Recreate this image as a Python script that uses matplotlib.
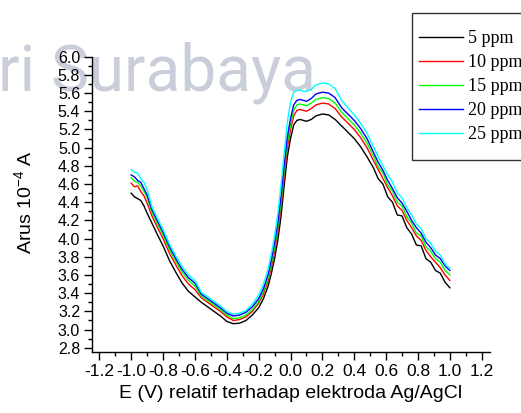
import matplotlib
matplotlib.use("Agg")
import matplotlib.pyplot as plt
from matplotlib.ticker import MultipleLocator, FormatStrFormatter
from matplotlib.path import Path

plt.rcParams['font.family'] = ['Liberation Sans', 'DejaVu Sans']
plt.rcParams['axes.unicode_minus'] = False
plt.rcParams['mathtext.default'] = 'regular'

# ---- data ----
E = [-1.00, -0.98, -0.96, -0.94, -0.92, -0.90, -0.87, -0.84, -0.80, -0.76,
     -0.72, -0.68, -0.64, -0.60, -0.56, -0.52, -0.48, -0.44, -0.40, -0.36,
     -0.32, -0.28, -0.24, -0.20, -0.17, -0.14, -0.12, -0.10, -0.08, -0.06,
     -0.04, -0.02, 0.00, 0.02, 0.04, 0.06, 0.08, 0.10, 0.13, 0.16,
     0.20, 0.24, 0.28, 0.32, 0.36, 0.40, 0.44, 0.48, 0.52, 0.55,
     0.58, 0.61, 0.64, 0.67, 0.70, 0.73, 0.76, 0.79, 0.82, 0.85,
     0.88, 0.91, 0.94, 0.97, 1.00]

ppm5 = [4.50, 4.46, 4.44, 4.42, 4.36, 4.28, 4.17, 4.06, 3.92, 3.76,
        3.63, 3.51, 3.42, 3.36, 3.30, 3.25, 3.20, 3.15, 3.09, 3.065,
        3.07, 3.10, 3.16, 3.24, 3.34, 3.48, 3.62, 3.78, 3.98, 4.24,
        4.58, 4.90, 5.10, 5.25, 5.30, 5.31, 5.30, 5.29, 5.31, 5.35,
        5.37, 5.36, 5.31, 5.24, 5.17, 5.10, 5.01, 4.90, 4.78, 4.66,
        4.60, 4.46, 4.40, 4.26, 4.25, 4.12, 4.05, 3.93, 3.92, 3.78,
        3.74, 3.65, 3.62, 3.52, 3.46]

ppm10 = [4.61, 4.57, 4.58, 4.52, 4.47, 4.39, 4.25, 4.14, 4.00, 3.84,
         3.71, 3.59, 3.50, 3.44, 3.35, 3.30, 3.25, 3.20, 3.14, 3.10,
         3.11, 3.14, 3.20, 3.29, 3.39, 3.54, 3.69, 3.86, 4.07, 4.34,
         4.68, 5.00, 5.20, 5.35, 5.41, 5.42, 5.41, 5.40, 5.43, 5.47,
         5.49, 5.48, 5.43, 5.34, 5.27, 5.20, 5.11, 5.00, 4.86, 4.76,
         4.66, 4.56, 4.47, 4.36, 4.31, 4.20, 4.12, 4.03, 3.98, 3.87,
         3.80, 3.74, 3.68, 3.60, 3.54]

ppm15 = [4.67, 4.63, 4.62, 4.58, 4.52, 4.45, 4.29, 4.18, 4.04, 3.88,
         3.75, 3.63, 3.54, 3.48, 3.37, 3.32, 3.27, 3.22, 3.16, 3.12,
         3.13, 3.16, 3.22, 3.31, 3.42, 3.57, 3.73, 3.90, 4.12, 4.40,
         4.74, 5.06, 5.26, 5.41, 5.47, 5.48, 5.47, 5.46, 5.49, 5.53,
         5.55, 5.54, 5.49, 5.39, 5.32, 5.25, 5.16, 5.05, 4.91, 4.79,
         4.72, 4.59, 4.52, 4.40, 4.36, 4.24, 4.17, 4.06, 4.03, 3.91,
         3.86, 3.78, 3.74, 3.65, 3.60]

ppm20 = [4.70, 4.68, 4.64, 4.62, 4.55, 4.48, 4.32, 4.21, 4.07, 3.91,
         3.78, 3.66, 3.57, 3.51, 3.39, 3.34, 3.29, 3.24, 3.18, 3.15,
         3.16, 3.19, 3.25, 3.34, 3.45, 3.61, 3.77, 3.95, 4.17, 4.46,
         4.80, 5.12, 5.32, 5.47, 5.52, 5.53, 5.52, 5.51, 5.54, 5.59,
         5.61, 5.60, 5.55, 5.44, 5.37, 5.30, 5.21, 5.10, 4.95, 4.84,
         4.75, 4.64, 4.55, 4.45, 4.39, 4.30, 4.20, 4.12, 4.06, 3.96,
         3.90, 3.82, 3.78, 3.70, 3.65]

ppm25 = [4.76, 4.73, 4.72, 4.66, 4.62, 4.54, 4.35, 4.24, 4.10, 3.94,
         3.81, 3.69, 3.60, 3.54, 3.41, 3.36, 3.31, 3.26, 3.20, 3.17,
         3.18, 3.21, 3.28, 3.38, 3.50, 3.67, 3.84, 4.03, 4.27, 4.58,
         4.94, 5.28, 5.50, 5.61, 5.63, 5.63, 5.62, 5.62, 5.64, 5.69,
         5.71, 5.70, 5.65, 5.52, 5.44, 5.36, 5.27, 5.16, 5.01, 4.90,
         4.80, 4.70, 4.62, 4.50, 4.45, 4.34, 4.26, 4.16, 4.11, 4.00,
         3.95, 3.86, 3.82, 3.72, 3.67]

series = [ppm5, ppm10, ppm15, ppm20, ppm25]
labels = ['5 ppm', '10 ppm', '15 ppm', '20 ppm', '25 ppm']
colors = ['#000000', '#ff0000', '#00ff00', '#0000ff', '#00ffff']

# ---- figure ----
W, H = 521, 413
fig = plt.figure(figsize=(W / 100, H / 100), dpi=100)

# faint watermark of the source document
fig.text(-2 / W, 1 - 90 / H, 'ri Surabaya', family='Roboto', fontsize=46,
         color='#cacedb', ha='left', va='baseline', zorder=-1)

ax = fig.add_axes([92 / W, 1 - 351.7 / H, 398 / W, 295 / H])
ax.patch.set_alpha(0)

lines = []
for y, lab, c in zip(series, labels, colors):
    ln, = ax.plot(E, y, color=c, lw=1.0, label=lab)
    lines.append(ln)

ax.set_xlim(-1.246, 1.252)
ax.set_ylim(2.757, 6.0)

for s in ['top', 'right']:
    ax.spines[s].set_visible(False)
for s in ['left', 'bottom']:
    ax.spines[s].set_linewidth(1.0)

ax.xaxis.set_major_locator(MultipleLocator(0.2))
ax.xaxis.set_minor_locator(MultipleLocator(0.1))
ax.yaxis.set_major_locator(MultipleLocator(0.2))
ax.yaxis.set_minor_locator(MultipleLocator(0.1))
ax.xaxis.set_major_formatter(FormatStrFormatter('%.1f'))
ax.yaxis.set_major_formatter(FormatStrFormatter('%.1f'))
ax.tick_params(which='major', direction='out', length=5.5, width=1.0)
ax.tick_params(which='minor', direction='out', length=2.8, width=1.0)
ax.tick_params(axis='x', labelsize=12.5, pad=3)
ax.tick_params(axis='y', labelsize=11.5, pad=3)

fig.text(290.5 / W, 1 - 393 / H, 'E (V) relatif terhadap elektroda Ag/AgCl',
         fontsize=14, ha='center', va='center')
fig.text(24 / W, 1 - 202 / H, 'Arus 10$^{-4}$ A', fontsize=14,
         rotation=90, ha='center', va='center')


def tall_box(x0, y0, width, height, mutation_size):
    ext = 0.52 * mutation_size
    return Path([(x0, y0 - ext), (x0 + width, y0 - ext),
                 (x0 + width, y0 + height + ext), (x0, y0 + height + ext),
                 (x0, y0 - ext)], closed=True)


leg = ax.legend(handles=lines, loc='upper left',
                bbox_to_anchor=(411.5 / W, 1 - 22.7 / H),
                bbox_transform=fig.transFigure, borderaxespad=0,
                prop={'family': 'Liberation Serif', 'size': 13},
                frameon=True, fancybox=False, shadow=False,
                borderpad=0.4, labelspacing=0.39, handlelength=2.45,
                handletextpad=0.3)
frame = leg.get_frame()
frame.set_boxstyle(tall_box)
frame.set_edgecolor('black')
frame.set_linewidth(1.0)
for h in leg.legend_handles:
    h.set_linewidth(1.0)

fig.savefig('out.png', dpi=100)
